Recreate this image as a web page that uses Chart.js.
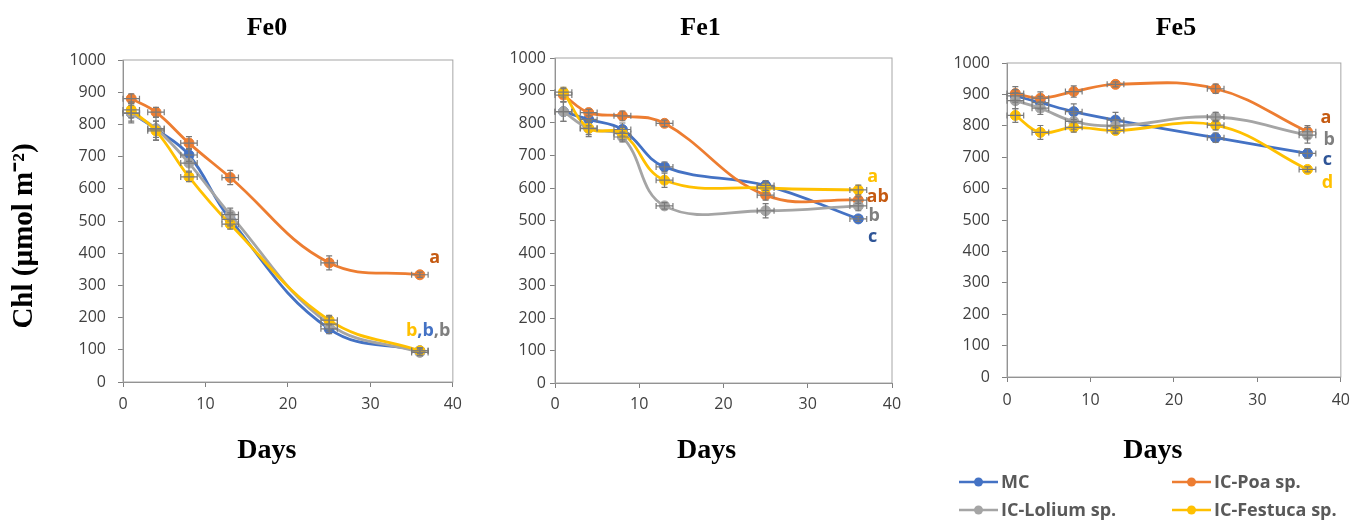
<!DOCTYPE html>
<html>
<head>
<meta charset="utf-8">
<script src="https://cdn.jsdelivr.net/npm/chart.js@4.4.1/dist/chart.umd.min.js"></script>
<style>
  html, body { margin: 0; padding: 0; background: #fff; }
  body { width: 1359px; height: 524px; position: relative; overflow: hidden; }
  .panel { position: absolute; top: 0; height: 524px; }
</style>
</head>
<body>
<div class="panel" style="left:0;width:470px"><canvas id="fe0"></canvas></div>
<div class="panel" style="left:470px;width:440px"><canvas id="fe1"></canvas></div>
<div class="panel" style="left:910px;width:449px"><canvas id="fe5"></canvas></div>
<script>
const days = [1, 4, 8, 13, 25, 36];
const dayErr = 1;
const seriesNames = ['MC', 'IC-Poa sp.', 'IC-Lolium sp.', 'IC-Festuca sp.'];
const seriesColors = ['#4472C4', '#ED7D31', '#A5A5A5', '#FFC000'];
const yTicks = [0, 1000, 100];
const xTicks = [0, 40, 10];

// Fe0
const fe0MC = [835, 785, 705, 505, 165, 97];
const fe0Poa = [880, 838, 742, 635, 370, 333];
const fe0Lolium = [835, 787, 680, 520, 180, 92];
const fe0Festuca = [845, 780, 637, 490, 192, 97];
const fe0ErrMC = [25, 25, 20, 20, 15, 8];
const fe0ErrPoa = [15, 15, 20, 22, 22, 8];
const fe0ErrLolium = [30, 35, 25, 20, 22, 10];
const fe0ErrFestuca = [25, 30, 15, 15, 15, 10];

// Fe1
const fe1MC = [835, 811, 780, 665, 608, 505];
const fe1Poa = [886, 832, 822, 799, 578, 563];
const fe1Lolium = [835, 783, 757, 545, 530, 545];
const fe1Festuca = [895, 784, 768, 624, 600, 594];
const fe1ErrMC = [30, 20, 20, 15, 15, 8];
const fe1ErrPoa = [20, 10, 15, 10, 15, 10];
const fe1ErrLolium = [30, 25, 15, 10, 22, 15];
const fe1ErrFestuca = [15, 20, 20, 22, 15, 15];

// Fe5
const fe5MC = [895, 874, 845, 818, 762, 712];
const fe5Poa = [903, 888, 909, 932, 918, 781];
const fe5Lolium = [880, 856, 814, 800, 828, 770];
const fe5Festuca = [833, 779, 795, 785, 802, 661];
const fe5ErrMC = [20, 20, 25, 25, 15, 15];
const fe5ErrPoa = [22, 20, 18, 8, 15, 20];
const fe5ErrLolium = [25, 20, 25, 20, 15, 25];
const fe5ErrFestuca = [22, 22, 15, 10, 15, 8];

// significance letters: [text, colour] pieces, anchored at (day, value)
const fe0Letters = [
  { day: 37.8, value: 385, parts: [['a', '#C55A11']] },
  { day: 37.0, value: 160, parts: [['b', '#FFC000'], [',', '#4472C4'], ['b', '#4472C4'], [',', '#7F7F7F'], ['b', '#7F7F7F']] }
];
const fe1Letters = [
  { day: 37.7, value: 633, parts: [['a', '#FFC000']] },
  { day: 38.3, value: 572, parts: [['ab', '#C55A11']] },
  { day: 37.9, value: 514, parts: [['b', '#7F7F7F']] },
  { day: 37.7, value: 449, parts: [['c', '#2F5597']] }
];
const fe5Letters = [
  { day: 38.2, value: 825, parts: [['a', '#C55A11']] },
  { day: 38.6, value: 755, parts: [['b', '#7F7F7F']] },
  { day: 38.4, value: 691, parts: [['c', '#2F5597']] },
  { day: 38.4, value: 618, parts: [['d', '#FFC000']] }
];

Chart.defaults.font.family = "'Open Sans', sans-serif";
Chart.defaults.color = '#404040';

const serif = "'Liberation Serif', serif";

const errorBars = {
  id: 'errorBars',
  afterDatasetsDraw(chart) {
    const { ctx, scales: { x, y } } = chart;
    ctx.save();
    ctx.strokeStyle = '#7a7a7a';
    ctx.lineWidth = 1.2;
    chart.data.datasets.forEach(ds => {
      ds.data.forEach((p, i) => {
        const px = x.getPixelForValue(p.x), py = y.getPixelForValue(p.y);
        const t = y.getPixelForValue(p.y + ds.yErr[i]);
        const b = y.getPixelForValue(p.y - ds.yErr[i]);
        const l = x.getPixelForValue(p.x - dayErr);
        const r = x.getPixelForValue(p.x + dayErr);
        ctx.beginPath();
        ctx.moveTo(px, t); ctx.lineTo(px, b);
        ctx.moveTo(px - 3, t); ctx.lineTo(px + 3, t);
        ctx.moveTo(px - 3, b); ctx.lineTo(px + 3, b);
        ctx.moveTo(l, py); ctx.lineTo(r, py);
        ctx.moveTo(l, py - 3); ctx.lineTo(l, py + 3);
        ctx.moveTo(r, py - 3); ctx.lineTo(r, py + 3);
        ctx.stroke();
      });
    });
    ctx.restore();
  }
};

const frame = {
  id: 'frame',
  beforeDatasetsDraw(chart) {
    const { ctx, chartArea: a } = chart;
    ctx.save();
    ctx.strokeStyle = '#a6a6a6';
    ctx.lineWidth = 1;
    ctx.strokeRect(a.left, a.top, a.right - a.left, a.bottom - a.top);
    ctx.restore();
  }
};

function textPlugin(cfg) {
  return {
    id: 'panelText',
    afterDraw(chart) {
      const { ctx, chartArea: a, scales: { x, y } } = chart;
      const cx = (a.left + a.right) / 2;
      ctx.save();
      ctx.fillStyle = '#000';
      ctx.textAlign = 'center';
      ctx.textBaseline = 'middle';
      ctx.font = 'bold 26px ' + serif;
      ctx.fillText(cfg.title, cx + cfg.titleDx, 28);
      ctx.font = 'bold 28px ' + serif;
      ctx.fillText('Days', cx + cfg.labelDx, 451);
      if (cfg.yLabel) {
        ctx.save();
        ctx.font = 'bold 29px ' + serif;
        ctx.translate(25, 236);
        ctx.rotate(-Math.PI / 2);
        ctx.fillText(cfg.yLabel, 0, 0);
        ctx.restore();
      }
      ctx.font = "bold 18px 'Open Sans', sans-serif";
      ctx.textAlign = 'left';
      cfg.letters.forEach(l => {
        const total = l.parts.reduce((s, p) => s + ctx.measureText(p[0]).width, 0);
        let px = x.getPixelForValue(l.day) - total / 2;
        const py = y.getPixelForValue(l.value);
        l.parts.forEach(p => {
          ctx.fillStyle = p[1];
          ctx.fillText(p[0], px, py);
          px += ctx.measureText(p[0]).width;
        });
      });
      if (cfg.legend) {
        ctx.font = "bold 18px 'Open Sans', sans-serif";
        const cols = [49, 262], rows = [482, 510];
        chart.data.datasets.forEach((ds, i) => {
          const lx = cols[i % 2], ly = rows[Math.floor(i / 2)];
          ctx.strokeStyle = ds.borderColor;
          ctx.lineWidth = 2.5;
          ctx.beginPath(); ctx.moveTo(lx, ly); ctx.lineTo(lx + 39, ly); ctx.stroke();
          ctx.fillStyle = ds.borderColor;
          ctx.beginPath(); ctx.arc(lx + 19.5, ly, 4.5, 0, Math.PI * 2); ctx.fill();
          ctx.fillStyle = '#595959';
          ctx.fillText(ds.label, lx + 42, ly + 1);
        });
      }
      ctx.restore();
    }
  };
}

function makePanel(id, values, errs, cfg) {
  const datasets = values.map((vals, i) => ({
    label: seriesNames[i],
    data: days.map((d, j) => ({ x: d, y: vals[j] })),
    yErr: errs[i],
    borderColor: seriesColors[i],
    backgroundColor: seriesColors[i],
    borderWidth: 2.8,
    pointRadius: 5,
    pointBorderWidth: 1,
    tension: 0.4,
    order: 3 - i
  }));
  return new Chart(document.getElementById(id), {
    type: 'line',
    data: { datasets },
    options: {
      responsive: true,
      maintainAspectRatio: false,
      animation: false,
      events: [],
      layout: { padding: { top: cfg.top, right: cfg.right, left: 0, bottom: 0 } },
      plugins: { legend: { display: false }, tooltip: { enabled: false } },
      scales: {
        x: {
          type: 'linear',
          min: xTicks[0], max: xTicks[1],
          ticks: { stepSize: xTicks[2], padding: cfg.xPad, font: { size: 16 }, maxRotation: 0, callback: v => String(v) },
          grid: { drawOnChartArea: false, tickLength: 5, color: '#808080' },
          border: { color: '#808080' },
          afterFit: s => { s.height = cfg.xHeight; }
        },
        y: {
          min: yTicks[0], max: yTicks[1],
          ticks: { stepSize: yTicks[2], padding: cfg.yPad, font: { size: 16 }, callback: v => String(v) },
          grid: { drawOnChartArea: false, tickLength: 5, color: '#808080' },
          border: { color: '#808080' },
          afterFit: s => { s.width = cfg.yWidth; }
        }
      }
    },
    plugins: [frame, errorBars, textPlugin(cfg)]
  });
}

makePanel('fe0', [fe0MC, fe0Poa, fe0Lolium, fe0Festuca],
  [fe0ErrMC, fe0ErrPoa, fe0ErrLolium, fe0ErrFestuca],
  { title: 'Fe0', titleDx: -21, labelDx: -21, yLabel: 'Chl (µmol m⁻²)', letters: fe0Letters,
    top: 60, right: 15, yWidth: 123, xHeight: 142, yPad: 12, xPad: 8 });

makePanel('fe1', [fe1MC, fe1Poa, fe1Lolium, fe1Festuca],
  [fe1ErrMC, fe1ErrPoa, fe1ErrLolium, fe1ErrFestuca],
  { title: 'Fe1', titleDx: -23, labelDx: -17, letters: fe1Letters,
    top: 58, right: 18, yWidth: 85, xHeight: 141, yPad: 4, xPad: 7 });

makePanel('fe5', [fe5MC, fe5Poa, fe5Lolium, fe5Festuca],
  [fe5ErrMC, fe5ErrPoa, fe5ErrLolium, fe5ErrFestuca],
  { title: 'Fe5', titleDx: 2, labelDx: -21, letters: fe5Letters, legend: true,
    top: 63, right: 11, yWidth: 97, xHeight: 147, yPad: 12, xPad: 9 });
</script>
</body>
</html>
